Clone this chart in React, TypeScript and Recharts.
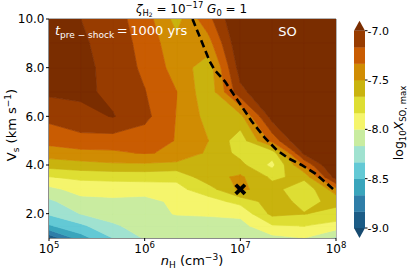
import React from "react";
import { ReferenceArea, Scatter, ScatterChart, XAxis, YAxis } from "recharts";

const FONT = "'DejaVu Sans', sans-serif";

// grid nodes: log10 nH (cm^-3) and shock speed (km/s)
const logNH = [5, 5.333, 5.667, 6, 6.333, 6.667, 7, 7.333, 7.667, 8];
const vShock = [1, 1.5, 2, 2.5, 3, 3.5, 4, 4.5, 5, 6, 7, 8, 9, 10];

// log10 X(SO)max, one row per vShock value (low -> high), one column per logNH
const logXso = [
  [-8.95, -8.57, -8.33, -8.15, -8.12, -8.1, -8.1, -8.05, -8.0, -8.2],
  [-8.52, -8.37, -8.19, -8.1, -8.08, -8.07, -8.06, -7.85, -7.83, -7.9],
  [-8.31, -8.16, -8.1, -8.06, -7.99, -7.98, -7.96, -7.62, -7.66, -7.72],
  [-8.2, -8.06, -8.04, -8.06, -7.96, -7.9, -7.78, -7.58, -7.72, -7.62],
  [-8.05, -7.93, -7.92, -7.92, -7.88, -7.74, -7.46, -7.6, -7.8, -7.4],
  [-7.84, -7.8, -7.79, -7.78, -7.8, -7.56, -7.47, -7.7, -7.62, -6.92],
  [-7.6, -7.56, -7.53, -7.53, -7.55, -7.56, -7.62, -7.88, -7.32, -6.75],
  [-7.41, -7.38, -7.36, -7.32, -7.36, -7.53, -7.72, -7.76, -6.95, -6.72],
  [-7.28, -7.22, -7.24, -7.26, -7.34, -7.5, -7.76, -7.28, -6.78, -6.7],
  [-7.12, -7.06, -6.99, -7.12, -7.34, -7.56, -7.55, -6.92, -6.75, -6.7],
  [-6.97, -6.96, -7.04, -7.16, -7.33, -7.62, -7.05, -6.82, -6.72, -6.7],
  [-6.92, -6.95, -7.06, -7.2, -7.4, -7.6, -6.92, -6.78, -6.7, -6.7],
  [-6.9, -6.97, -7.08, -7.22, -7.45, -7.4, -6.85, -6.75, -6.7, -6.7],
  [-6.9, -7.0, -7.1, -7.25, -7.56, -7.22, -6.8, -6.75, -6.7, -6.7],
];

const levels = [-9.0, -8.833, -8.667, -8.5, -8.333, -8.167, -8.0, -7.833, -7.667, -7.5, -7.333, -7.167, -7.0];
// below -9, the 12 bands, above -7
const bandColors = [
  "#174a70", "#1c5c86", "#2f7ea8", "#3aa5bc", "#63c9d5", "#a0e2d0", "#c9eca0",
  "#f5f56c", "#dede33", "#c9b30e", "#d08c03", "#c95c02", "#983c00", "#7a2d00",
];

// dashed boundary
const dashNH = [6.5, 6.68, 6.73, 6.84, 6.98, 7.12, 7.26, 7.38, 7.5, 7.64, 7.78, 7.88, 8.0];
const dashVs = [10.0, 8.26, 7.91, 7.43, 6.61, 5.79, 5.1, 4.62, 4.28, 4.0, 3.66, 3.32, 2.91];

// cross marker
const markNH = [7];
const markVs = [3];

const xTicks = [5, 6, 7, 8];
const yTicks = [2, 4, 6, 8, 10];
const cbarTicks = [-7.0, -7.5, -8.0, -8.5, -9.0];

type Node = [number, number, number];

// keep the part of a polygon on one side of a level (linear along edges)
function clipBy(poly: Node[], level: number, above: boolean): Node[] {
  const out: Node[] = [];
  for (let i = 0; i < poly.length; i++) {
    const a = poly[i];
    const b = poly[(i + 1) % poly.length];
    const inA = above ? a[2] >= level : a[2] <= level;
    const inB = above ? b[2] >= level : b[2] <= level;
    if (inA) out.push(a);
    if (inA !== inB) {
      const t = (level - a[2]) / (b[2] - a[2]);
      out.push([a[0] + t * (b[0] - a[0]), a[1] + t * (b[1] - a[1]), level]);
    }
  }
  return out;
}

function buildBands() {
  const bands = bandColors.map(() => ({ pts: [] as { x: number; y: number }[], sizes: [] as number[] }));
  for (let j = 0; j < vShock.length - 1; j++) {
    for (let i = 0; i < logNH.length - 1; i++) {
      const cell: Node[] = [
        [logNH[i], vShock[j], logXso[j][i]],
        [logNH[i + 1], vShock[j], logXso[j][i + 1]],
        [logNH[i + 1], vShock[j + 1], logXso[j + 1][i + 1]],
        [logNH[i], vShock[j + 1], logXso[j + 1][i]],
      ];
      for (let k = 0; k < bandColors.length; k++) {
        let poly = cell;
        if (k > 0) poly = clipBy(poly, levels[k - 1], true);
        if (k < levels.length) poly = clipBy(poly, levels[k], false);
        if (poly.length < 3) continue;
        bands[k].sizes.push(poly.length);
        poly.forEach((p) => bands[k].pts.push({ x: p[0], y: p[1] }));
      }
    }
  }
  return bands;
}

const bands = buildBands();
const dashData = dashNH.map((x, i) => ({ x, y: dashVs[i] }));
const markData = markNH.map((x, i) => ({ x, y: markVs[i] }));

function bandPath(color: string, sizes: number[]) {
  return (props: any) => {
    const pts = props.points || [];
    let d = "";
    let i = 0;
    for (const n of sizes) {
      d += "M" + pts.slice(i, i + n).map((p: any) => `${p.x.toFixed(2)},${p.y.toFixed(2)}`).join("L") + "Z";
      i += n;
    }
    return <path d={d} fill={color} stroke={color} strokeWidth={0.7} strokeLinejoin="round" />;
  };
}

const noShape = () => <g />;

function XMark(props: any) {
  const { cx, cy } = props;
  const r = 4.6;
  return (
    <g stroke="#000" strokeWidth={3.8}>
      <line x1={cx - r} y1={cy - r} x2={cx + r} y2={cy + r} />
      <line x1={cx - r} y1={cy + r} x2={cx + r} y2={cy - r} />
    </g>
  );
}

function PowTick(props: any) {
  const { x, y, payload } = props;
  return (
    <text x={x} y={y + 10} textAnchor="middle" fontSize={12} fontFamily={FONT} fill="#000">
      10
      <tspan fontSize={8.5} dy={-5}>
        {payload.value}
      </tspan>
    </text>
  );
}

function Colorbar() {
  const x0 = 354;
  const w = 11;
  const top = 30.7;
  const per = 98.65;
  const yOf = (v: number) => top + (-7 - v) * per;
  return (
    <g>
      {levels.slice(0, -1).map((lv, k) => (
        <rect
          key={k}
          x={x0}
          y={yOf(levels[k + 1])}
          width={w}
          height={yOf(lv) - yOf(levels[k + 1]) + 0.3}
          fill={bandColors[k + 1]}
        />
      ))}
      <polygon points={`${x0},${top} ${x0 + w},${top} ${x0 + w / 2},${top - 10}`} fill={bandColors[13]} />
      <polygon
        points={`${x0},${yOf(-9)} ${x0 + w},${yOf(-9)} ${x0 + w / 2},${yOf(-9) + 10}`}
        fill={bandColors[0]}
      />
      {cbarTicks.map((t) => (
        <g key={t}>
          <line x1={x0 + w} x2={x0 + w + 2.5} y1={yOf(t)} y2={yOf(t)} stroke="#000" />
          <text x={x0 + w + 2.5} y={yOf(t) + 4} fontSize={11} fill="#000">
            {t.toFixed(1)}
          </text>
        </g>
      ))}
    </g>
  );
}

export default function App() {
  return (
    <div style={{ position: "fixed", left: 0, top: 0, width: 407, height: 272, background: "#fff", fontFamily: FONT }}>
      <ScatterChart width={407} height={272} margin={{ top: 19, right: 71, bottom: 0, left: 0 }}>
        <XAxis
          type="number"
          dataKey="x"
          domain={[5, 8]}
          ticks={xTicks}
          interval={0}
          allowDataOverflow
          height={34}
          tickSize={3}
          tickMargin={2}
          tick={<PowTick />}
          axisLine={{ stroke: "#666" }}
          tickLine={{ stroke: "#000" }}
        />
        <YAxis
          type="number"
          dataKey="y"
          domain={[1, 10]}
          ticks={yTicks}
          interval={0}
          allowDataOverflow
          width={49}
          tickSize={3}
          tickMargin={1.5}
          tickFormatter={(v: number) => v.toFixed(1)}
          tick={{ fill: "#000", fontSize: 12, fontFamily: FONT }}
          axisLine={{ stroke: "#666" }}
          tickLine={{ stroke: "#000" }}
        />
        {bands.map((b, k) => (
          <Scatter
            key={k}
            data={b.pts}
            line={bandPath(bandColors[k], b.sizes)}
            shape={noShape}
            isAnimationActive={false}
          />
        ))}
        <Scatter
          data={dashData}
          line={{ stroke: "#000", strokeWidth: 2.6, strokeDasharray: "7.5 4" }}
          shape={noShape}
          isAnimationActive={false}
        />
        <Scatter data={markData} shape={XMark} isAnimationActive={false} />
        <ReferenceArea x1={5} x2={8} y1={1} y2={10} fill="none" stroke="#666" strokeWidth={1} />
      </ScatterChart>
      <svg
        width={407}
        height={272}
        style={{ position: "absolute", left: 0, top: 0, pointerEvents: "none" }}
        fontFamily={FONT}
      >
        <text x={191.5} y={13} textAnchor="middle" fontSize={12} fill="#000">
          <tspan fontStyle="italic">ζ</tspan>
          <tspan fontSize={8.4} dy={2.5}>H</tspan>
          <tspan fontSize={6} dy={1.5}>2</tspan>
          <tspan dy={-4}>{" = 10"}</tspan>
          <tspan fontSize={8.4} dy={-5}>−17</tspan>
          <tspan dy={5}>{" "}</tspan>
          <tspan fontStyle="italic">G</tspan>
          <tspan fontSize={8.4} dy={2.5}>0</tspan>
          <tspan dy={-2.5}>{" = 1"}</tspan>
        </text>
        <text x={55} y={35} fontSize={13} fill="#fff">
          <tspan fontStyle="italic">t</tspan>
          <tspan fontSize={9} dy={3}>pre − shock</tspan>
          <tspan dy={-3}>{"\u2009=\u20091000 yrs"}</tspan>
        </text>
        <text x={287.5} y={36} fontSize={13} fill="#fff" textAnchor="middle">
          SO
        </text>
        <text transform="translate(15.5,125) rotate(-90)" textAnchor="middle" fontSize={13} fill="#000">
          V<tspan fontSize={9} dy={3}>s</tspan>
          <tspan dy={-3}>{" (km s"}</tspan>
          <tspan fontSize={9} dy={-5}>−1</tspan>
          <tspan dy={5}>)</tspan>
        </text>
        <text x={192} y={265} textAnchor="middle" fontSize={13} fill="#000">
          <tspan fontStyle="italic">n</tspan>
          <tspan fontSize={9} dy={3}>H</tspan>
          <tspan dy={-3}>{" (cm"}</tspan>
          <tspan fontSize={9} dy={-5}>−3</tspan>
          <tspan dy={5}>)</tspan>
        </text>
        <text transform="translate(402.5,123) rotate(-90)" textAnchor="middle" fontSize={12.5} fill="#000">
          log<tspan fontSize={8.5} dy={3}>10</tspan>
          <tspan dy={-3} fontStyle="italic">X</tspan>
          <tspan fontSize={8.5} dy={3}>SO, max</tspan>
        </text>
        <Colorbar />
      </svg>
    </div>
  );
}
